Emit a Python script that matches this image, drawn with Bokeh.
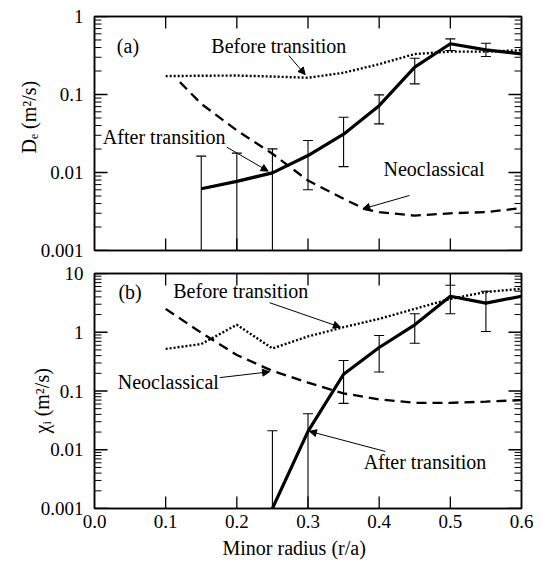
import numpy as np
from bokeh.plotting import figure
from bokeh.layouts import column
from bokeh.models import (Range1d, LogAxis, LinearAxis, FixedTicker, CustomJSTickFormatter,
                          PrintfTickFormatter, Arrow, NormalHead, Title)
from bokeh.embed import file_html
from bokeh.resources import INLINE
from bokeh.core.properties import value

FONT = "Liberation Serif"

# ---------------- data: panel (a) electron diffusivity D_e ----------------
a_before_r = [0.10, 0.15, 0.20, 0.25, 0.30, 0.35, 0.40, 0.45, 0.50, 0.55, 0.60]
a_before_v = [0.172, 0.174, 0.175, 0.170, 0.164, 0.19, 0.245, 0.33, 0.355, 0.355, 0.37]

a_neo_r = [0.12, 0.15, 0.20, 0.25, 0.30, 0.35, 0.38, 0.40, 0.45, 0.50, 0.55, 0.60]
a_neo_v = [0.144, 0.076, 0.0346, 0.0174, 0.0079, 0.0046, 0.0034, 0.0031, 0.0028, 0.0030, 0.0031, 0.0035]

a_after_r = [0.15, 0.20, 0.25, 0.30, 0.35, 0.40, 0.45, 0.50, 0.55, 0.60]
a_after_v = [0.0062, 0.0077, 0.0099, 0.0165, 0.031, 0.072, 0.224, 0.447, 0.374, 0.332]

a_err_r = [0.15, 0.20, 0.25, 0.30, 0.35, 0.40, 0.45, 0.50, 0.55]
a_err_hi = [0.0162, 0.0177, 0.0201, 0.0257, 0.0512, 0.099, 0.292, 0.517, 0.455]
a_err_lo = [0.001, 0.001, 0.001, 0.006, 0.0119, 0.042, 0.137, 0.366, 0.307]

# ---------------- data: panel (b) ion thermal diffusivity chi_i ----------------
b_before_r = [0.10, 0.15, 0.20, 0.25, 0.30, 0.35, 0.40, 0.45, 0.50, 0.55, 0.60]
b_before_v = [0.52, 0.63, 1.34, 0.53, 0.85, 1.22, 1.69, 2.5, 3.7, 4.85, 5.5]

b_neo_r = [0.10, 0.15, 0.20, 0.25, 0.30, 0.35, 0.40, 0.45, 0.50, 0.55, 0.60]
b_neo_v = [2.5, 0.98, 0.41, 0.22, 0.139, 0.091, 0.072, 0.063, 0.063, 0.066, 0.070]

b_after_r = [0.25, 0.30, 0.35, 0.40, 0.45, 0.50, 0.55, 0.60]
b_after_v = [0.001, 0.0206, 0.193, 0.55, 1.34, 4.1, 3.14, 4.1]

b_err_r = [0.25, 0.30, 0.35, 0.40, 0.45, 0.50, 0.55]
b_err_hi = [0.021, 0.041, 0.33, 0.88, 2.06, 6.3, 4.98]
b_err_lo = [0.001, 0.001, 0.0615, 0.21, 0.65, 2.06, 1.03]

x_ticks = [0.0, 0.1, 0.2, 0.3, 0.4, 0.5, 0.6]
x_tick_fmt = "%.1f"


def hide_labels(ax):
    ax.formatter = CustomJSTickFormatter(code="return ''")
    ax.major_label_text_font_size = "0px"
    ax.major_label_standoff = 0


def style_axis(ax):
    ax.axis_line_width = 1.5
    ax.axis_line_color = "black"
    ax.major_tick_in = 0
    ax.major_tick_out = 0
    ax.minor_tick_in = 0
    ax.minor_tick_out = 0
    ax.major_tick_line_color = None
    ax.minor_tick_line_color = None
    ax.major_label_text_font = FONT
    ax.major_label_text_font_size = "19px"
    ax.major_label_text_color = "black"


def side_title(text, offset, standoff, vertical_align):
    return Title(text=text, align="left", offset=offset, standoff=standoff,
                 vertical_align=vertical_align, text_font=FONT, text_font_size="20px",
                 text_font_style="normal", text_color="black")


def make_panel(height, mbt, mbb, y_start, y_end, show_xlabels):
    p = figure(width=533, height=height, x_range=Range1d(0, 0.6),
               y_range=Range1d(y_start, y_end), y_axis_type="log",
               output_backend="svg", toolbar_location=None,
               min_border_left=94, min_border_right=12,
               min_border_top=mbt, min_border_bottom=mbb)
    p.grid.visible = False
    p.outline_line_color = "black"
    p.outline_line_width = 1.5
    p.background_fill_color = "white"
    p.border_fill_color = "white"

    k0 = int(round(np.log10(y_start)))
    k1 = int(round(np.log10(y_end)))
    decades = [10.0 ** k if k >= 0 else float("1e%d" % k) for k in range(k0, k1 + 1)]
    minors = [m * d for d in decades[:-1] for m in range(2, 10)]

    yax = p.yaxis[0]
    yax.ticker = FixedTicker(ticks=decades, minor_ticks=minors)
    yax.formatter = CustomJSTickFormatter(code="return String(tick)")
    style_axis(yax)
    yax.major_label_standoff = 11

    yr = LogAxis(ticker=FixedTicker(ticks=decades, minor_ticks=minors))
    style_axis(yr)
    hide_labels(yr)
    p.add_layout(yr, "right")

    xax = p.xaxis[0]
    xax.ticker = FixedTicker(ticks=x_ticks)
    xax.formatter = PrintfTickFormatter(format=x_tick_fmt)
    style_axis(xax)
    xax.major_label_standoff = 6
    if not show_xlabels:
        hide_labels(xax)

    xt = LinearAxis(ticker=FixedTicker(ticks=x_ticks))
    style_axis(xt)
    hide_labels(xt)
    p.add_layout(xt, "above")

    # inward ticks: markers centred on the frame edge, the outer half is clipped by the frame
    for xe in (0.0, 0.6):
        p.scatter([xe] * len(decades), decades, marker="dash", size=26,
                  line_color="black", line_width=1.3)
        p.scatter([xe] * len(minors), minors, marker="dash", size=14,
                  line_color="black", line_width=1.0)
    inner = x_ticks[1:-1]
    for ye in (y_start, y_end):
        p.scatter(inner, [ye] * len(inner), marker="dash", angle=np.pi / 2, size=24,
                  line_color="black", line_width=1.3)
    return p


def draw_series(p, br, bv, nr, nv, ar, av, er, ehi, elo):
    p.line(br, bv, line_color="black", line_width=2.4, line_dash="2 2")
    p.line(nr, nv, line_color="black", line_width=2.3, line_dash="10 6")
    p.line(ar, av, line_color="black", line_width=3.2, line_join="round")
    p.segment(x0=er, y0=elo, x1=er, y1=ehi, line_color="black", line_width=1.1)
    p.scatter(er, ehi, marker="dash", size=10, line_color="black", line_width=1.1)
    lo_r = [r for r, lo in zip(er, elo) if lo > 0.0011]
    lo_v = [lo for lo in elo if lo > 0.0011]
    p.scatter(lo_r, lo_v, marker="dash", size=10, line_color="black", line_width=1.1)


def annotate(p, texts, arrows):
    p.text(x=[t[0] for t in texts], y=[t[1] for t in texts], text=[t[2] for t in texts],
           text_font=value(FONT), text_font_size="20px", text_color="black",
           text_align="center", text_baseline="middle")
    for (x0, y0, x1, y1) in arrows:
        p.add_layout(Arrow(end=NormalHead(size=7, fill_color="black", line_color="black", line_width=1),
                           x_start=x0, y_start=y0, x_end=x1, y_end=y1,
                           line_color="black", line_width=1))


# ---------------- panel (a) ----------------
p1 = make_panel(262, 16, 12, 0.001, 1.0, False)
draw_series(p1, a_before_r, a_before_v, a_neo_r, a_neo_v, a_after_r, a_after_v,
            a_err_r, a_err_hi, a_err_lo)
annotate(p1,
         [(0.047, 0.42, "(a)"), (0.259, 0.42, "Before transition"),
          (0.098, 0.0284, "After transition"), (0.477, 0.0111, "Neoclassical")],
         [(0.273, 0.316, 0.296, 0.18), (0.186, 0.0211, 0.244, 0.0104),
          (0.4426, 0.00507, 0.377, 0.00342)])
p1.add_layout(side_title("Dₑ (m²/s)", 97, -4, "bottom"), "left")

# ---------------- panel (b) ----------------
p2 = make_panel(308, 11, 62, 0.001, 10.0, True)
draw_series(p2, b_before_r, b_before_v, b_neo_r, b_neo_v, b_after_r, b_after_v,
            b_err_r, b_err_hi, b_err_lo)
annotate(p2,
         [(0.05, 4.85, "(b)"), (0.2055, 4.98, "Before transition"),
          (0.1037, 0.144, "Neoclassical"), (0.4644, 0.0063, "After transition")],
         [(0.2462, 3.18, 0.3456, 1.22), (0.176, 0.169, 0.246, 0.212),
          (0.4086, 0.00936, 0.302, 0.0206)])
p2.add_layout(side_title("χᵢ (m²/s)", 75, -30, "bottom"), "left")
p2.add_layout(side_title("Minor radius (r/a)", 128, 12, "top"), "below")

layout = column(p1, p2, spacing=0)
open("out.html", "w").write(file_html(layout, INLINE))
